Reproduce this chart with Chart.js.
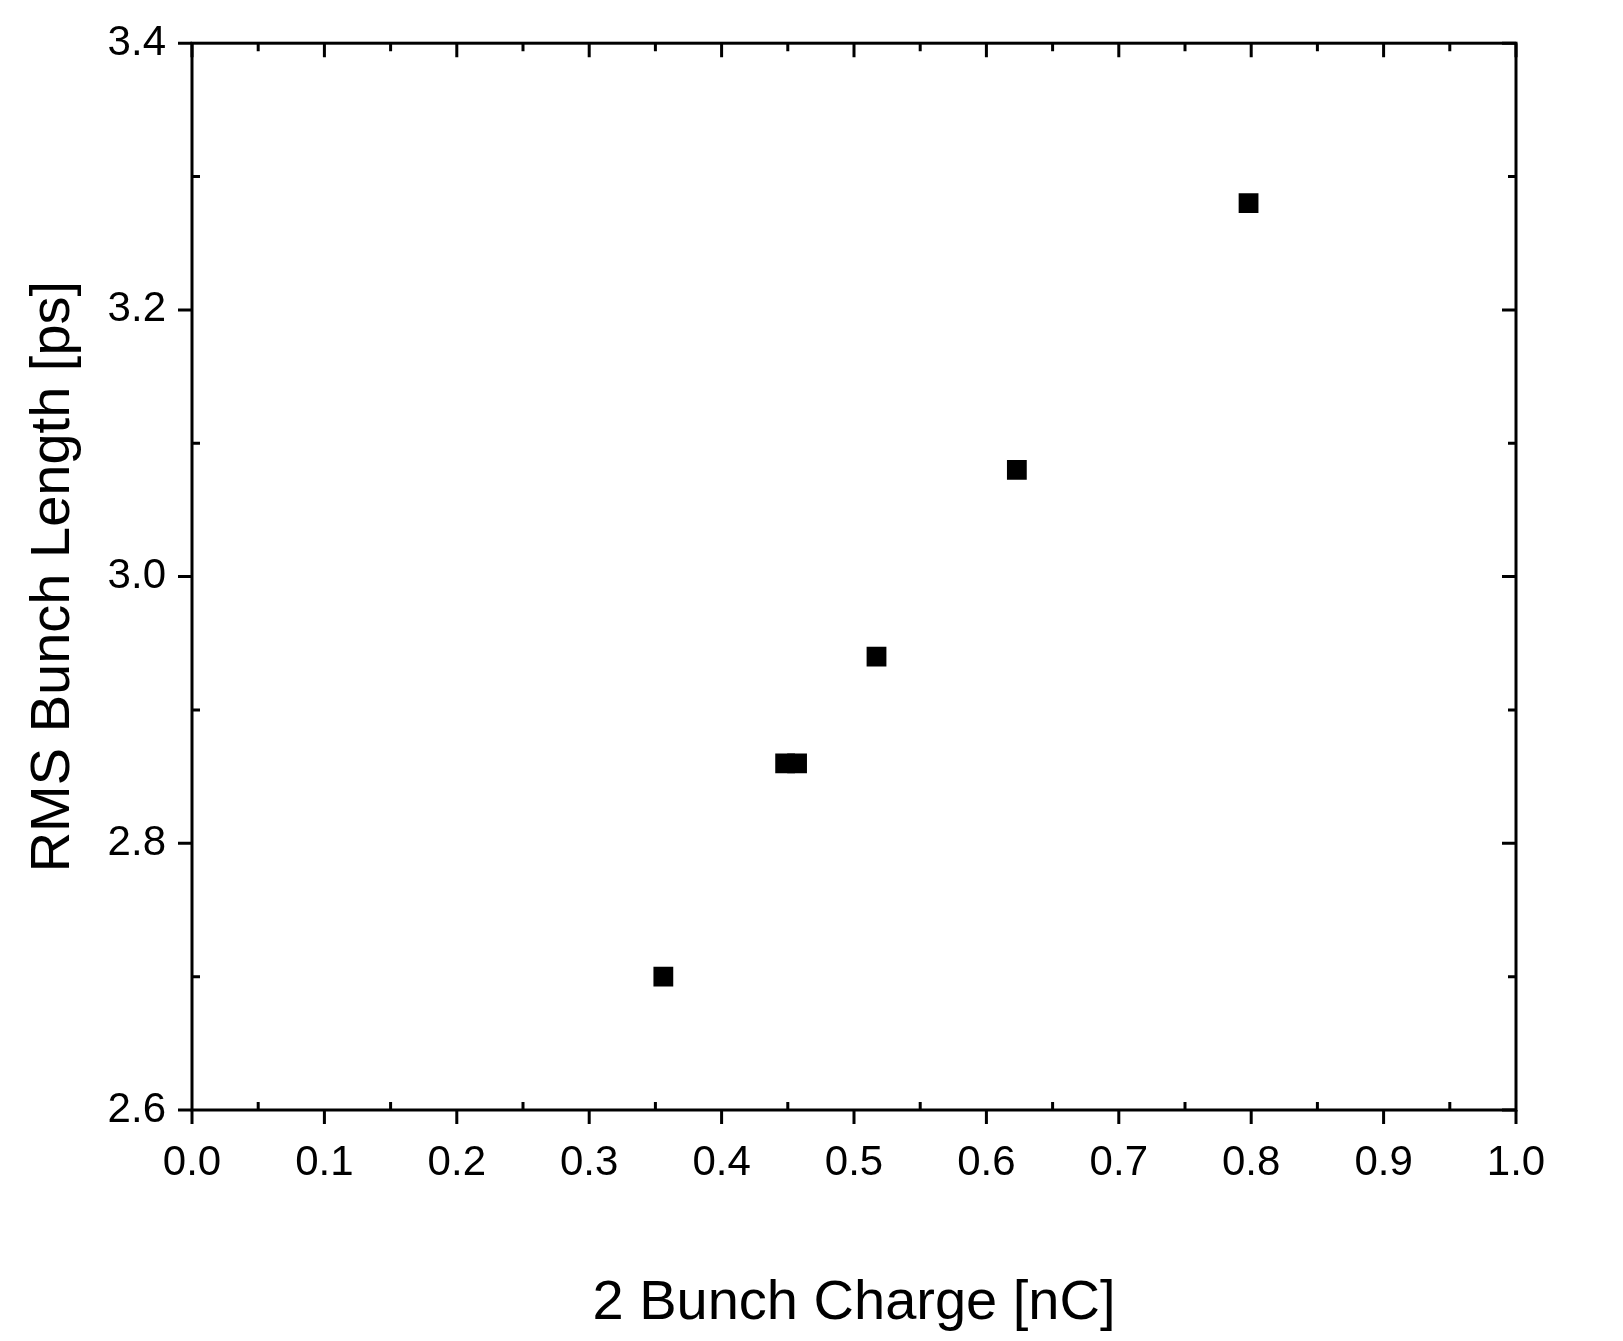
<!DOCTYPE html>
<html><head><meta charset="utf-8">
<script src="https://cdn.jsdelivr.net/npm/chart.js@4/dist/chart.umd.min.js"></script>
<style>html,body{margin:0;padding:0;background:#fff}#w{width:1623px;height:1341px}</style>
</head><body><div id="w"><canvas id="c"></canvas></div>
<script>
const charge = [0.356, 0.448, 0.457, 0.517, 0.623, 0.798];
const bunchLength = [2.700, 2.860, 2.860, 2.940, 3.080, 3.280];
const xTicks = [0,0.1,0.2,0.3,0.4,0.5,0.6,0.7,0.8,0.9,1.0];
const yTicks = [2.6,2.8,3.0,3.2,3.4];

const tickPlugin = {
  id:'ticks4',
  afterDraw(chart){
    const {ctx, chartArea:a, scales:{x,y}} = chart;
    ctx.save(); ctx.strokeStyle='#000'; ctx.lineWidth=3;
    ctx.strokeRect(a.left,a.top,a.right-a.left,a.bottom-a.top);
    ctx.beginPath();
    for(let i=0;i<=20;i++){
      const v=i*0.05, px=x.getPixelForValue(v), maj=i%2===0;
      const L=maj?14:8;
      if(maj){ctx.moveTo(px,a.bottom);ctx.lineTo(px,a.bottom+L);} else {ctx.moveTo(px,a.bottom);ctx.lineTo(px,a.bottom-L);}
      ctx.moveTo(px,a.top);ctx.lineTo(px,a.top+L);
    }
    for(let i=0;i<=8;i++){
      const v=2.6+i*0.1, py=y.getPixelForValue(v), maj=i%2===0;
      const L=maj?14:8;
      if(maj){ctx.moveTo(a.left,py);ctx.lineTo(a.left-L,py);} else {ctx.moveTo(a.left,py);ctx.lineTo(a.left+L,py);}
      ctx.moveTo(a.right,py);ctx.lineTo(a.right-L,py);
    }
    ctx.stroke(); ctx.restore();
  }
};

new Chart(document.getElementById('c'),{
  type:'scatter',
  data:{datasets:[{data:charge.map((v,i)=>({x:v,y:bunchLength[i]})),
    pointStyle:'rect',pointRadius:14,backgroundColor:'#000',borderColor:'#000',borderWidth:0}]},
  options:{
    responsive:true,maintainAspectRatio:false,animation:false,
    layout:{padding:{top:38,right:107,left:0,bottom:0}},
    plugins:{legend:{display:false},tooltip:{enabled:false}},
    scales:{
      x:{type:'linear',min:0,max:1,
        afterBuildTicks(s){s.ticks=xTicks.map(v=>({value:v}));},
        afterFit(s){s.height=231;},
        grid:{display:false},border:{display:false},
        ticks:{color:'#000',font:{family:'Liberation Sans',size:42},padding:20,maxRotation:0,callback:v=>v.toFixed(1)},
        title:{display:true,text:'2 Bunch Charge [nC]',color:'#000',font:{family:'Liberation Sans',size:56},padding:{top:10}}},
      y:{type:'linear',min:2.6,max:3.4,
        afterBuildTicks(s){s.ticks=yTicks.map(v=>({value:v}));},
        afterFit(s){s.width=192;},
        grid:{display:false},border:{display:false},
        ticks:{color:'#000',font:{family:'Liberation Sans',size:42},padding:18,callback:v=>v.toFixed(1)},
        title:{display:true,text:'RMS Bunch Length [ps]',color:'#000',font:{family:'Liberation Sans',size:56},padding:{top:20,bottom:0}}}
    }
  },
  plugins:[tickPlugin]
});
</script></body></html>
